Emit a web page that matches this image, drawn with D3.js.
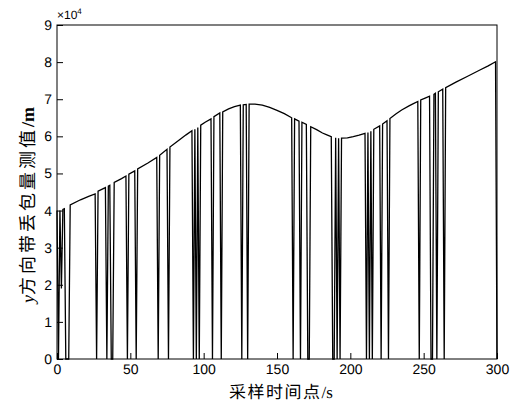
<!DOCTYPE html>
<html>
<head>
<meta charset="utf-8">
<script src="https://cdn.jsdelivr.net/npm/d3@7"></script>
<style>
  body { margin: 0; background: #fff; }
  svg { display: block; text-rendering: geometricPrecision; }
  .tick text { font-family: "Liberation Sans", Arial, sans-serif; font-size: 14px; fill: #000; }
</style>
</head>
<body>
<svg id="chart"></svg>
<script>
// sampled values, unit 10^4 m: [time s, value]
const series = [
    [0, 4.00], [1, 0], [2, 4.00], [3, 1.9], [4, 4.03], [5, 4.05], [6, 0], [7, 0], [8, 0], [9, 4.15],
    [16, 4.29], [22, 4.39], [26, 4.45], [27, 0], [28, 4.52],
    [33, 4.62], [34, 0], [35, 4.66], [36, 4.68], [37, 0], [38, 0], [39, 4.76],
    [44, 4.86], [47, 4.93], [48, 0], [49, 4.98],
    [53, 5.07], [54, 0], [55, 5.12], [62, 5.28],
    [68, 5.43], [69, 0], [70, 5.49],
    [75, 5.65], [76, 0], [77, 5.71],
    [84, 5.92], [88, 6.04], [92, 6.15], [93, 0], [94, 6.19], [95, 0], [96, 6.24], [97, 0], [98, 6.30],
    [101, 6.38], [105, 6.47], [106, 0], [107, 6.53],
    [111, 6.63], [112, 0], [113, 6.66],
    [117, 6.74], [121, 6.80], [125, 6.84], [126, 0], [127, 6.85],
    [129, 6.86], [130, 0], [131, 6.87],
    [135, 6.87], [140, 6.84], [145, 6.78], [150, 6.70], [155, 6.61],
    [160, 6.50], [161, 0], [162, 6.47],
    [165, 6.41], [166, 0], [167, 6.38],
    [170, 6.32], [171, 0], [172, 0], [173, 6.26],
    [177, 6.18], [181, 6.09], [184, 6.04], [187, 5.99], [188, 0], [189, 0], [190, 5.96], [191, 0], [192, 5.95], [193, 0], [194, 5.95],
    [198, 5.96], [202, 5.99], [206, 6.03], [210, 6.08], [211, 0], [212, 6.10], [213, 0], [214, 6.14], [215, 0], [216, 6.19],
    [220, 6.28], [221, 0], [222, 6.33],
    [225, 6.42], [226, 0], [227, 6.48],
    [231, 6.60], [235, 6.71], [240, 6.82], [243, 6.88], [246, 6.94], [247, 0], [248, 6.98],
    [251, 7.03], [254, 7.08], [255, 0], [256, 0], [257, 7.13], [258, 7.16], [259, 0], [260, 7.20],
    [263, 7.27], [264, 0], [265, 7.31],
    [272, 7.46], [280, 7.62], [288, 7.78], [294, 7.90], [299, 8.01], [300, 0]
];
const xTicks = [0, 50, 100, 150, 200, 250, 300];
const yTicks = [0, 1, 2, 3, 4, 5, 6, 7, 8, 9];

const width = 510;
const height = 406;
const margin = { top: 25, right: 13, bottom: 47, left: 57 };
const w = width - margin.left - margin.right;
const h = height - margin.top - margin.bottom;

const svg = d3.select("#chart")
    .attr("width", width)
    .attr("height", height);

const g = svg.append("g")
    .attr("transform", `translate(${[margin.left, margin.top]})`);

const x = d3.scaleLinear().domain([0, 300]).range([0, w]);
const y = d3.scaleLinear().domain([0, 9]).range([h, 0]);

const line = d3.line()
    .x((d) => x(d[0]))
    .y((d) => y(d[1]));

g.append("path")
    .datum(series)
    .attr("fill", "none")
    .attr("stroke", "#000")
    .attr("stroke-width", 1.3)
    .attr("stroke-linejoin", "miter")
    .attr("d", line);

// inward ticks, MATLAB style
const xAxis = g.append("g")
    .attr("transform", `translate(0,${h})`)
    .call(d3.axisBottom(x).tickValues(xTicks).tickSize(-6).tickSizeOuter(0).tickPadding(5));
xAxis.select(".domain").remove();

const yAxis = g.append("g")
    .call(d3.axisLeft(y).tickValues(yTicks).tickSize(-6).tickSizeOuter(0).tickPadding(5));
yAxis.select(".domain").remove();

g.selectAll(".tick line").attr("stroke", "#000");

g.append("rect")
    .attr("width", w)
    .attr("height", h)
    .attr("fill", "none")
    .attr("stroke", "#000")
    .attr("stroke-width", 1);

// exponent label
const expo = g.append("text")
    .attr("x", 0)
    .attr("y", -6)
    .attr("font-family", "Liberation Sans, Arial, sans-serif")
    .attr("font-size", 12);
expo.append("tspan").text("×10");
expo.append("tspan").attr("dy", -5).attr("font-size", 8).text("4");

// x label
const xl = svg.append("text")
    .attr("x", margin.left + w / 2 + 4)
    .attr("y", 398)
    .attr("text-anchor", "middle")
    .attr("fill", "#000")
    .attr("font-size", 17);
xl.append("tspan").attr("font-family", "Noto Sans CJK SC").attr("letter-spacing", 1.5).text("采样时间点");
xl.append("tspan").attr("font-family", "Liberation Serif").text("/s");

// y label
const yl = svg.append("text")
    .attr("transform", `translate(34,205) rotate(-90)`)
    .attr("text-anchor", "middle")
    .attr("fill", "#000")
    .attr("font-size", 18);
yl.append("tspan").attr("font-family", "Liberation Serif").attr("font-style", "italic").text("y");
yl.append("tspan").attr("font-family", "Noto Sans CJK SC").attr("letter-spacing", 3).text("方向带丢包量测值");
yl.append("tspan").attr("font-family", "Liberation Serif").attr("font-weight", "bold").text("/m");
</script>
</body>
</html>
